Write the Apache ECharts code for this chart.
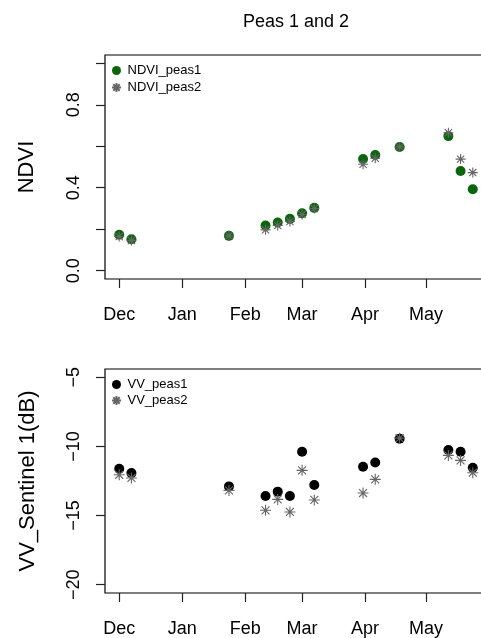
<!DOCTYPE html>
<html>
<head>
<meta charset="utf-8">
<script src="https://cdn.jsdelivr.net/npm/echarts@6/dist/echarts.min.js"></script>
<style>
  html, body { margin: 0; padding: 0; background: #fff; }
  #main { width: 481px; height: 638px; }
</style>
</head>
<body>
<div id="main"></div>
<script>
// days since 1 Dec (Sentinel-1 passes, 6 day revisit)
var days = [0, 6, 54, 72, 78, 84, 90, 96, 120, 126, 138, 162, 168, 174];
var ndviPeas1 = [0.173, 0.152, 0.168, 0.218, 0.232, 0.25, 0.277, 0.303, 0.538, 0.558, 0.596, 0.649, 0.481, 0.393];
var ndviPeas2 = [0.165, 0.146, 0.168, 0.197, 0.218, 0.237, 0.271, 0.30, 0.513, 0.542, 0.597, 0.665, 0.538, 0.473];
var vvPeas1 = [-11.61, -11.93, -12.89, -13.59, -13.27, -13.59, -10.38, -12.79, -11.47, -11.16, -9.44, -10.26, -10.38, -11.54];
var vvPeas2 = [-12.05, -12.28, -13.18, -14.62, -13.83, -14.74, -11.73, -13.87, -13.37, -12.38, -9.4, -10.65, -11.01, -11.9];

var monthTicks = [0, 31, 62, 90, 121, 151];
var monthLabels = ['Dec', 'Jan', 'Feb', 'Mar', 'Apr', 'May'];
var ndviTicks = [0, 0.2, 0.4, 0.6, 0.8, 1.0];
var ndviLabels = [0, 0.4, 0.8];
var vvTicks = [-20, -15, -10, -5];

var FONT = 'Liberation Sans';
var GREEN = '#0b650b';
var GREY = '#666666';
var STAR = 'path://M0,-1L0,1M-1,0L1,0M-0.72,-0.72L0.72,0.72M-0.72,0.72L0.72,-0.72';

function pairs(xs, ys) {
  var out = [];
  for (var i = 0; i < xs.length; i++) {
    out.push([xs[i], ys[i]]);
  }
  return out;
}

function xAxis(gridIndex) {
  return {
    type: 'value',
    gridIndex: gridIndex,
    min: -7,
    max: 181,
    axisLine: { show: false, onZero: false },
    splitLine: { show: false },
    axisTick: { show: true, length: 9, customValues: monthTicks, lineStyle: { color: '#222', width: 1.2 } },
    axisLabel: {
      customValues: monthTicks,
      margin: 27,
      fontSize: 18,
      fontFamily: FONT,
      color: '#000',
      formatter: function(v) {
        return monthLabels[monthTicks.indexOf(v)];
      }
    }
  };
}

var chart = echarts.init(document.getElementById('main'));

var option = {
  animation: false,
  backgroundColor: '#fff',
  title: {
    text: 'Peas 1 and 2',
    left: 243,
    top: 13,
    padding: 0,
    textStyle: { fontSize: 18, fontWeight: 'normal', fontFamily: FONT, color: '#000' }
  },
  grid: [
    { left: 105, top: 55, right: -6, height: 224, show: true, borderColor: '#000', borderWidth: 1.2, outerBoundsMode: 'none' },
    { left: 105, top: 369, right: -6, height: 224, show: true, borderColor: '#000', borderWidth: 1.2, outerBoundsMode: 'none' }
  ],
  legend: [
    {
      data: ['NDVI_peas1', 'NDVI_peas2'],
      orient: 'vertical',
      left: 111,
      top: 64,
      itemWidth: 12,
      itemHeight: 9,
      itemGap: 4,
      padding: 0,
      textStyle: { fontSize: 13, fontFamily: FONT, color: '#000' }
    },
    {
      data: ['VV_peas1', 'VV_peas2'],
      orient: 'vertical',
      left: 111,
      top: 378,
      itemWidth: 12,
      itemHeight: 9,
      itemGap: 3,
      padding: 0,
      textStyle: { fontSize: 13, fontFamily: FONT, color: '#000' }
    }
  ],
  xAxis: [xAxis(0), xAxis(1)],
  yAxis: [
    {
      type: 'value',
      gridIndex: 0,
      min: -0.04,
      max: 1.04,
      name: 'NDVI',
      nameLocation: 'middle',
      nameRotate: 90,
      nameGap: 67,
      nameTextStyle: { fontSize: 22, fontFamily: FONT, color: '#000' },
      axisLine: { show: false, onZero: false },
      splitLine: { show: false },
      axisTick: { show: true, length: 9, customValues: ndviTicks, lineStyle: { color: '#222', width: 1.2 } },
      axisLabel: {
        customValues: ndviLabels,
        rotate: 90,
        margin: 22,
        fontSize: 18,
        fontFamily: FONT,
        color: '#000',
        formatter: function(v) { return v.toFixed(1); }
      }
    },
    {
      type: 'value',
      gridIndex: 1,
      min: -20.6,
      max: -4.4,
      name: 'VV_Sentinel 1(dB)',
      nameLocation: 'middle',
      nameRotate: 90,
      nameGap: 66,
      nameTextStyle: { fontSize: 22, fontFamily: FONT, color: '#000' },
      axisLine: { show: false, onZero: false },
      splitLine: { show: false },
      axisTick: { show: true, length: 9, customValues: vvTicks, lineStyle: { color: '#222', width: 1.2 } },
      axisLabel: {
        customValues: vvTicks,
        rotate: 90,
        margin: 22,
        fontSize: 18,
        fontFamily: FONT,
        color: '#000',
        formatter: function(v) { return String(v).replace('-', '\u2212'); }
      }
    }
  ],
  series: [
    {
      name: 'NDVI_peas1',
      type: 'scatter',
      xAxisIndex: 0,
      yAxisIndex: 0,
      symbol: 'circle',
      symbolSize: 10,
      itemStyle: { color: GREEN, opacity: 1 },
      data: pairs(days, ndviPeas1)
    },
    {
      name: 'NDVI_peas2',
      type: 'scatter',
      xAxisIndex: 0,
      yAxisIndex: 0,
      symbol: STAR,
      symbolSize: 10,
      itemStyle: { color: 'rgba(0,0,0,0)', borderColor: GREY, borderWidth: 1.1, opacity: 1 },
      data: pairs(days, ndviPeas2)
    },
    {
      name: 'VV_peas1',
      type: 'scatter',
      xAxisIndex: 1,
      yAxisIndex: 1,
      symbol: 'circle',
      symbolSize: 10,
      itemStyle: { color: '#000', opacity: 1 },
      data: pairs(days, vvPeas1)
    },
    {
      name: 'VV_peas2',
      type: 'scatter',
      xAxisIndex: 1,
      yAxisIndex: 1,
      symbol: STAR,
      symbolSize: 11,
      itemStyle: { color: 'rgba(0,0,0,0)', borderColor: GREY, borderWidth: 1.1, opacity: 1 },
      data: pairs(days, vvPeas2)
    }
  ]
};

chart.setOption(option);
</script>
</body>
</html>
